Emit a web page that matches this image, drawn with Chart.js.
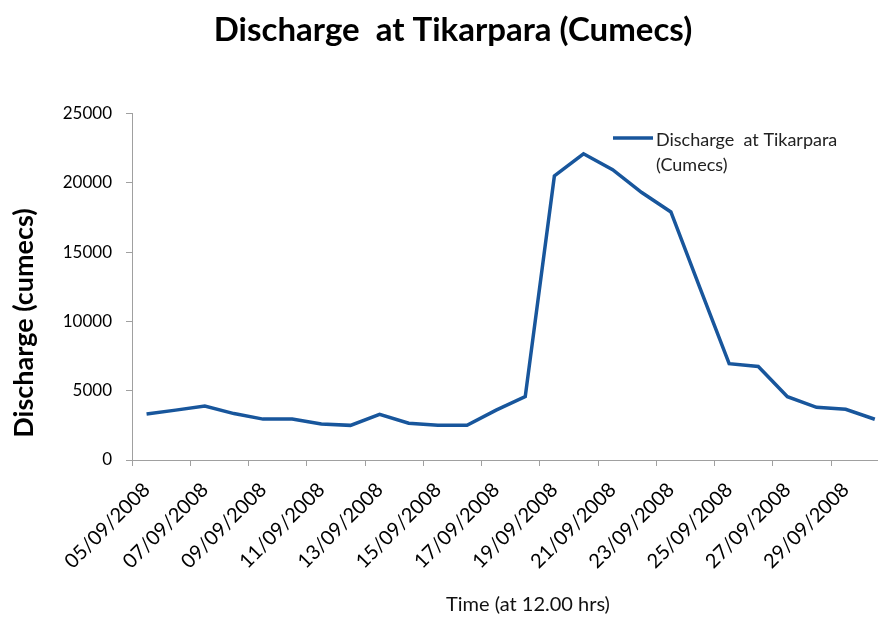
<!DOCTYPE html>
<html>
<head>
<meta charset="utf-8">
<title>Discharge at Tikarpara</title>
<script src="https://cdn.jsdelivr.net/npm/chart.js@4"></script>
<style>
  html, body { margin: 0; padding: 0; background: #fff; overflow: hidden; }
  #wrap { width: 904px; height: 619px; }
</style>
</head>
<body>
<div id="wrap"><canvas id="dischargeChart" width="904" height="619"></canvas></div>
<script>
// data
const dates = ['05/09/2008','06/09/2008','07/09/2008','08/09/2008','09/09/2008','10/09/2008',
  '11/09/2008','12/09/2008','13/09/2008','14/09/2008','15/09/2008','16/09/2008','17/09/2008',
  '18/09/2008','19/09/2008','20/09/2008','21/09/2008','22/09/2008','23/09/2008','24/09/2008',
  '25/09/2008','26/09/2008','27/09/2008','28/09/2008','29/09/2008','30/09/2008'];
const discharge = [3320, 3600, 3900, 3350, 2950, 2950, 2600, 2500, 3300, 2650, 2500, 2500, 3600,
  4570, 20500, 22100, 20950, 19300, 17900, 12400, 6950, 6750, 4570, 3800, 3660, 2940];
const seriesName = 'Discharge  at Tikarpara (Cumecs)';
const legendLines = ['Discharge  at Tikarpara', '(Cumecs)'];
const chartTitle = 'Discharge  at Tikarpara (Cumecs)';
const yTitle = 'Discharge (cumecs)';
const xTitle = 'Time (at 12.00 hrs)';

const lineColor = '#18569c';
const axisColor = '#a0a0a0';
const fontFamily = 'Lato, "Open Sans", sans-serif';

// axis titles and the legend box are drawn here
const extras = {
  id: 'extras',
  afterDraw(chart) {
    const ctx = chart.ctx;
    ctx.save();
    ctx.fillStyle = '#000';
    ctx.font = 'bold 27px ' + fontFamily;
    ctx.textAlign = 'center';
    ctx.textBaseline = 'middle';
    ctx.translate(24, 323);
    ctx.rotate(-Math.PI / 2);
    ctx.fillText(yTitle, 0, 0);
    ctx.restore();

    ctx.save();
    ctx.fillStyle = '#111';
    ctx.font = '20px ' + fontFamily;
    ctx.textAlign = 'center';
    ctx.textBaseline = 'middle';
    ctx.fillText(xTitle, 528, 605);
    ctx.restore();

    ctx.save();
    ctx.strokeStyle = lineColor;
    ctx.lineWidth = 3.5;
    ctx.beginPath();
    ctx.moveTo(613, 138);
    ctx.lineTo(653, 138);
    ctx.stroke();
    ctx.fillStyle = '#222';
    ctx.font = '18px ' + fontFamily;
    ctx.textBaseline = 'middle';
    legendLines.forEach((t, i) => ctx.fillText(t, 656, 140 + i * 25));
    ctx.restore();
  }
};

const ctx = document.getElementById('dischargeChart').getContext('2d');
new Chart(ctx, {
  type: 'line',
  data: {
    labels: dates,
    datasets: [{
      label: seriesName,
      data: discharge,
      borderColor: lineColor,
      backgroundColor: lineColor,
      borderWidth: 3.5,
      pointRadius: 0,
      tension: 0,
      fill: false
    }]
  },
  options: {
    responsive: false,
    animation: false,
    layout: { padding: { left: 14, right: 12, top: 0, bottom: 0 } },
    plugins: {
      legend: { display: false },
      tooltip: { enabled: false },
      title: {
        display: true,
        text: chartTitle,
        color: '#000',
        font: { family: fontFamily, size: 33, weight: 'bold' },
        padding: { top: 11, bottom: 63 }
      }
    },
    scales: {
      x: {
        offset: true,
        afterFit: (scale) => { scale.height = 159; },
        border: { color: axisColor, width: 1 },
        grid: {
          offset: true,
          drawOnChartArea: false,
          tickLength: 6,
          color: (c) => (c.index % 2 === 0 ? axisColor : 'rgba(0,0,0,0)')
        },
        ticks: {
          autoSkip: false,
          minRotation: 45,
          maxRotation: 45,
          padding: 12,
          color: '#000',
          font: { family: fontFamily, size: 20 },
          callback: function (val, i) { return i % 2 === 0 ? this.getLabelForValue(val) : ''; }
        }
      },
      y: {
        min: 0,
        max: 25000,
        afterFit: (scale) => { scale.width = 118; },
        border: { color: axisColor, width: 1 },
        grid: { drawOnChartArea: false, tickLength: 6, color: axisColor },
        ticks: {
          stepSize: 5000,
          padding: 14,
          color: '#000',
          font: { family: fontFamily, size: 17 },
          callback: (v) => String(v)
        }
      }
    }
  },
  plugins: [extras]
});
</script>
</body>
</html>
